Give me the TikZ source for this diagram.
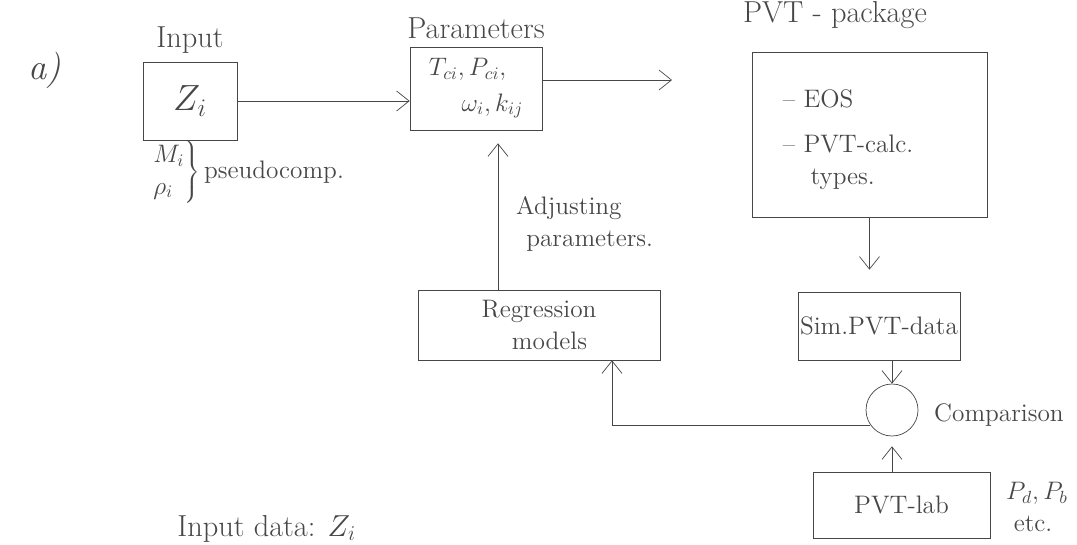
\documentclass[tikz,border=0pt]{standalone}
\usetikzlibrary{arrows.meta}
\colorlet{pencil}{black!72}
\begin{document}
\begin{tikzpicture}[x=0.02cm,y=-0.02cm,
box/.style = {draw=pencil,thin,inner sep=0pt},
conn/.style = {thin,draw=pencil,
        -{Straight Barb[length=2.5mm,width=4mm]},
            },
every node/.append style = {text=pencil,font=\Large}]

        \useasboundingbox (0,0) rectangle (1077,544);
        \clip (0,0) rectangle (1077,544);

        \node [] (Lbl_a) at (45,70) {\huge\itshape a)};

        % boxes
        \node [box,minimum width=1.88cm,minimum height=1.56cm] (Zi_Box) at (190,101) {\huge $Z_i$};
        \node [box,minimum width=2.64cm,minimum height=1.66cm,align=left] (Par_Box) at (476,88.5)
              {$T_{ci}, P_{ci},$\\[2pt]\hspace{1.3em}$\omega_i, k_{ij}$};
        \node [box,minimum width=4.7cm,minimum height=3.3cm] (PVT_Box) at (869.5,134.5) {};
        \node [box,minimum width=3.24cm,minimum height=1.36cm] (Sim_Box) at (879,326) {Sim.PVT-data};
        \node [box,minimum width=4.84cm,minimum height=1.4cm,align=left] (Reg_Box) at (539,325)
              {Regression\\\hspace{1.2em}models};
        \node [box,circle,minimum size=1.04cm] (Comp) at (892,410) {};
        \node [box,minimum width=3.54cm,minimum height=1.32cm] (Lab_Box) at (901.5,505) {PVT-lab};

        % labels
        \node [above=1pt] (Zi_Lbl) at (Zi_Box.north) {\LARGE Input};
        \node [above=1pt] (Par_Lbl) at (Par_Box.north) {\LARGE Parameters};
        \node [] (PVT_Lbl) at (835,15) {\LARGE PVT - package};
        \node [anchor=west,align=left] (PVT_Txt) at ([xshift=0.5cm,yshift=-0.1cm]PVT_Box.west)
              {-- EOS\\[8pt]-- PVT-calc.\\\hspace{1.1em}types.};
        \node [anchor=west] (Ps_Lbl) at (145,172)
              {$\left.\begin{array}{@{}l@{}}M_i\\ \rho_i\end{array}\right\}$\,pseudocomp.};
        \node [anchor=west,align=left] (Adj_Lbl) at (510,224) {Adjusting\\\hspace{0.4em}parameters.};
        \node [anchor=west] (Comp_Lbl) at (928,415) {Comparison};
        \node [anchor=west,align=left] (Lab_Lbl) at (1000,507) {$P_d, P_b$\\\hspace{0.3em}etc.};
        \node [anchor=base west,inner sep=0pt] (Bot_Lbl) at (177,536) {\LARGE Input data: $Z_i$};

        % connectors
        \coordinate (Out_End) at (672,80);
        \draw[conn] (Zi_Box.east) -- (Zi_Box.east -| Par_Box.west);
        \draw[conn] (Par_Box.east |- Out_End) -- (Out_End);
        \draw[conn,shorten >=0.44cm] (PVT_Box.south) -- (PVT_Box.south |- Sim_Box.north);
        \draw[conn] (Comp.north |- Sim_Box.south) -- (Comp.north);
        \draw[conn,shorten >=0.2cm] (Lab_Box.north -| Comp) -- (Comp.south);
        \draw[conn] (Comp.215) -| ([xshift=1.46cm]Reg_Box.south);
        \draw[conn,shorten >=0.26cm] ([xshift=-0.82cm]Reg_Box.north) -- ([xshift=-0.82cm]Reg_Box.north |- Par_Box.south);

    \end{tikzpicture}
\end{document}
